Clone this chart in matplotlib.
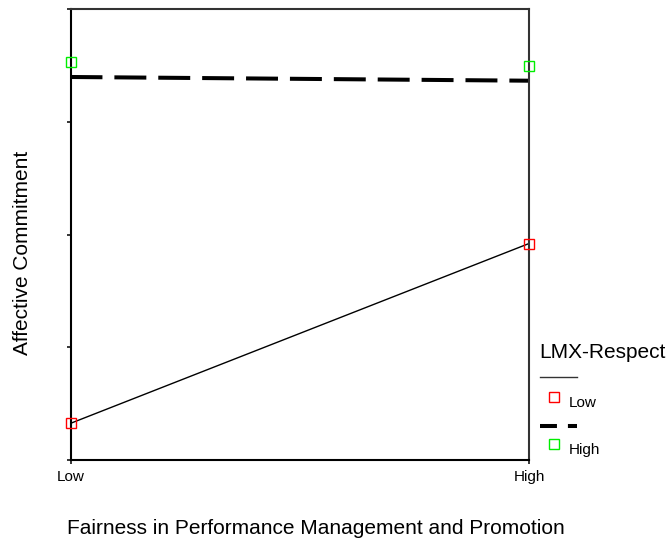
import matplotlib
matplotlib.use("Agg")
import matplotlib.pyplot as plt
from matplotlib.lines import Line2D

plt.rcParams['font.family'] = ['Liberation Sans', 'DejaVu Sans']
plt.rcParams['lines.scale_dashes'] = False

xLabels = ['Low', 'High']
xPos = [0, 1]

# LMX-Respect groups: fitted lines and observed cell means
lowLine = [0.325, 1.92]
highLine = [3.397, 3.364]
lowPoints = [0.325, 1.92]
highPoints = [3.533, 3.497]

W, H = 672, 545
fig = plt.figure(figsize=(W / 100, H / 100), dpi=100)
ax = fig.add_axes([70.5 / W, 1 - 460 / H, (529 - 70.5) / W, (460 - 9) / H])

ax.plot(xPos, lowLine, color='black', lw=1.0, solid_capstyle='butt')
ax.plot(xPos, highLine, color='black', lw=2.9, dashes=(23, 8.6), dash_capstyle='butt')
ax.plot(xPos, lowPoints, ls='none', marker='s', ms=6.5, mfc='none', mec='#ff0000', mew=1.0, clip_on=False, zorder=5)
ax.plot(xPos, highPoints, ls='none', marker='s', ms=6.5, mfc='none', mec='#00ee00', mew=1.0, clip_on=False, zorder=5)

ax.set_xlim(0, 1)
ax.set_ylim(0, 4)
ax.set_xticks(xPos)
ax.set_xticklabels(xLabels, fontsize=11)
ax.set_yticks([0, 1, 2, 3, 4])
ax.set_yticklabels([])
ax.tick_params(direction='out', length=3, width=1.1, pad=4)
for s in ax.spines.values():
    s.set_linewidth(1.5)
ax.spines['top'].set_color('#333333')
ax.spines['right'].set_color('#333333')

def fx(px):
    return px / W

def fy(py):
    return 1 - py / H

fig.text(fx(316), fy(529), 'Fairness in Performance Management and Promotion',
         fontsize=15, ha='center', va='center')
fig.text(fx(23), fy(253), 'Affective Commitment', fontsize=15, rotation=90,
         ha='center', va='center')

# legend, drawn by hand to match the layout
fig.text(fx(539), fy(352), 'LMX-Respect', fontsize=15, ha='left', va='center')
fig.add_artist(Line2D([fx(540), fx(577)], [fy(377), fy(377)], color='#333333', lw=1.0,
                      transform=fig.transFigure))
fig.add_artist(Line2D([fx(554)], [fy(397)], ls='none', marker='s', ms=6.5, mfc='none',
                      mec='#ff0000', mew=1.0, transform=fig.transFigure))
fig.text(fx(569), fy(403), xLabels[0], fontsize=11, ha='left', va='center')
fig.add_artist(Line2D([fx(540), fx(577)], [fy(426), fy(426)], color='black', lw=2.9,
                      dashes=(12.2, 7.9), dash_capstyle='butt', transform=fig.transFigure))
fig.add_artist(Line2D([fx(554)], [fy(444)], ls='none', marker='s', ms=6.5, mfc='none',
                      mec='#00ee00', mew=1.0, transform=fig.transFigure))
fig.text(fx(569), fy(450), xLabels[1], fontsize=11, ha='left', va='center')

fig.savefig('out.png', dpi=100)
